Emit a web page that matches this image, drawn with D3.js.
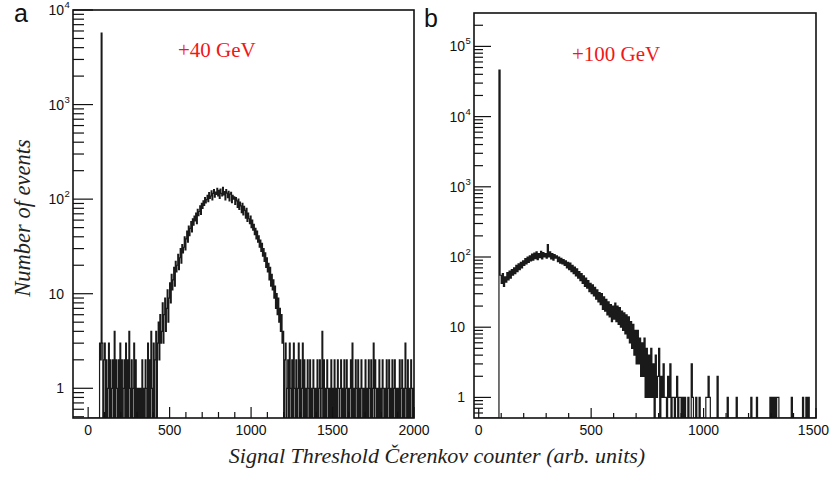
<!DOCTYPE html>
<html>
<head>
<meta charset="utf-8">
<script src="https://cdn.jsdelivr.net/npm/d3@7"></script>
<style>
  body { margin: 0; background: #fff; }
  svg text { font-family: "Liberation Sans", Arial, sans-serif; }
  .tick-label { font-size: 14px; fill: #111; }
  .sup { font-size: 9.5px; fill: #111; }
  .energy { font-family: "Liberation Serif", "Times New Roman", serif; font-size: 21px; fill: #f01818; }
  .axis-title { font-family: "Liberation Serif", "Times New Roman", serif; font-style: italic; fill: #222; }
  .panel-letter { font-size: 25px; fill: #111; }
  .hist { fill: none; stroke: #1a1a1a; stroke-width: 1.2; }
  .frame { fill: none; stroke: #111; stroke-width: 1.6; }
  .tick { stroke: #111; stroke-width: 1.2; }
</style>
</head>
<body>
<div id="chart"></div>
<script>
// panel a: +40 GeV, bins of 5 units from 0 to 2000
const binWidthA = 5;
const countsA = [
  0, 0, 0, 0, 0, 0, 0, 0, 0, 0, 0, 0, 0, 0, 3, 2, 5700, 3, 0, 2,
  3, 0, 2, 0, 1, 3, 0, 2, 0, 1, 2, 0, 4, 0, 2, 1, 0, 2, 0, 3,
  0, 2, 0, 1, 2, 0, 3, 0, 2, 0, 4, 1, 0, 2, 0, 1, 3, 0, 2, 0,
  1, 0, 1, 0, 1, 0, 2, 0, 1, 0, 2, 1, 0, 3, 0, 2, 0, 4, 1, 0,
  3, 0, 2, 4, 0, 3, 5, 2, 6, 3, 4, 8, 3, 6, 9, 4, 7, 11, 5, 9,
  13, 8, 16, 11, 14, 19, 12, 22, 17, 20, 26, 18, 24, 30, 21, 33, 27, 31, 40, 29,
  38, 46, 35, 52, 41, 49, 58, 45, 62, 53, 66, 59, 71, 55, 78, 67, 74, 85, 69, 90,
  80, 96, 86, 104, 91, 99, 110, 94, 117, 102, 108, 122, 98, 115, 126, 105, 119, 112, 130, 108,
  124, 102, 128, 115, 108, 133, 111, 120, 98, 126, 116, 104, 121, 96, 113, 118, 92, 110, 100, 106,
  88, 104, 96, 82, 100, 78, 93, 85, 72, 90, 68, 84, 76, 63, 80, 58, 71, 62, 55, 66,
  50, 60, 47, 54, 42, 49, 38, 46, 35, 41, 31, 37, 28, 34, 25, 30, 22, 27, 19, 24,
  17, 21, 14, 19, 12, 16, 11, 14, 9, 12, 7, 10, 6, 9, 5, 7, 4, 6, 3, 4,
  0, 2, 3, 0, 1, 2, 0, 3, 1, 0, 2, 0, 3, 1, 0, 2, 0, 1, 3, 0,
  2, 0, 1, 3, 0, 2, 0, 1, 0, 2, 1, 0, 2, 0, 1, 0, 2, 1, 0, 1,
  0, 2, 0, 1, 2, 0, 1, 4, 0, 2, 0, 1, 0, 2, 1, 0, 1, 0, 2, 0,
  1, 0, 2, 0, 1, 0, 2, 1, 0, 1, 2, 0, 1, 0, 2, 0, 1, 2, 0, 1,
  0, 1, 2, 0, 3, 0, 1, 0, 2, 1, 0, 2, 0, 1, 0, 2, 1, 0, 1, 0,
  2, 0, 1, 0, 2, 1, 0, 2, 0, 1, 3, 0, 2, 1, 0, 1, 0, 2, 0, 1,
  0, 2, 1, 0, 1, 0, 2, 0, 1, 2, 0, 1, 0, 2, 0, 1, 2, 0, 1, 0,
  1, 0, 2, 0, 1, 2, 0, 1, 0, 3, 1, 0, 2, 0, 1, 0, 2, 1, 0, 1
];

// panel b: +100 GeV, bins of 5 units from 0 to 1500
const binWidthB = 5;
const countsB = [
  0, 0, 0, 0, 0, 0, 0, 0, 0, 0, 0, 0, 0, 0, 0, 0, 0, 0, 46000, 55,
  42, 58, 38, 52, 44, 60, 47, 63, 50, 66, 55, 70, 58, 76, 62, 80, 66, 84, 70, 88,
  76, 95, 80, 100, 84, 104, 88, 110, 90, 114, 95, 118, 92, 112, 98, 120, 94, 116, 100, 112,
  96, 150, 100, 118, 94, 112, 90, 108, 96, 104, 86, 100, 82, 96, 80, 92, 76, 88, 70, 84,
  66, 82, 62, 76, 58, 72, 54, 68, 50, 62, 46, 58, 42, 54, 38, 50, 36, 46, 32, 42,
  30, 40, 28, 37, 25, 34, 23, 31, 21, 30, 18, 27, 17, 25, 15, 23, 14, 21, 12, 20,
  13, 22, 12, 20, 11, 19, 10, 17, 9, 16, 8, 15, 7, 14, 6, 12, 5, 11, 4, 9,
  3, 9, 3, 7, 2, 6, 2, 7, 1, 5, 1, 4, 1, 5, 1, 3, 0, 4, 1, 2,
  5, 0, 2, 1, 3, 1, 1, 0, 2, 1, 3, 0, 1, 1, 0, 1, 2, 0, 1, 1,
  0, 1, 0, 1, 0, 0, 1, 0, 0, 3, 1, 0, 0, 1, 0, 0, 1, 0, 0, 0,
  0, 0, 1, 1, 2, 1, 0, 0, 0, 0, 0, 0, 2, 0, 0, 0, 0, 0, 0, 0,
  0, 1, 0, 0, 0, 0, 0, 0, 0, 1, 0, 0, 0, 0, 0, 0, 0, 0, 0, 0,
  0, 0, 1, 0, 0, 0, 0, 1, 0, 0, 0, 0, 0, 0, 0, 0, 0, 0, 0, 1,
  0, 1, 0, 1, 0, 1, 1, 0, 0, 0, 0, 0, 0, 0, 0, 0, 0, 0, 1, 0,
  0, 0, 0, 0, 0, 0, 0, 0, 1, 0, 0, 1, 0, 1, 0, 0, 0, 0, 0, 0
];

const xTicksA = [0, 500, 1000, 1500, 2000];
const xTicksB = [0, 500, 1000, 1500];
const energyA = "+40 GeV";
const energyB = "+100 GeV";
const yTitle = "Number of events";
const xTitle = "Signal Threshold Čerenkov counter (arb. units)";

class HistPanel {
  constructor(_svg, _data, _config) {
    this.svg = _svg;
    this.data = _data;
    this.config = _config;

    this.initVis();
  }

  initVis() {
    let vis = this;
    const c = vis.config;

    vis.x = d3.scaleLinear().domain(c.xDomain).range([c.left, c.right]);
    vis.y = d3.scaleLog().domain(c.yDomain).range([c.bottom, c.top]);

    vis.g = vis.svg.append("g");

    vis.g
      .append("clipPath")
      .attr("id", "clip-" + c.id)
      .append("rect")
      .attr("x", c.left)
      .attr("y", c.top)
      .attr("width", c.right - c.left)
      .attr("height", c.bottom - c.top);

    vis.updateVis();
  }

  updateVis() {
    let vis = this;
    const c = vis.config;

    // histogram as a step line, empty bins sit on the bottom axis
    let pts = vis.data.values.map((v, i) => [i * vis.data.binWidth, v]);
    pts.push([vis.data.values.length * vis.data.binWidth, 0]);

    let line = d3
      .line()
      .x((d) => vis.x(d[0]))
      .y((d) => (d[1] > 0 ? vis.y(d[1]) : c.bottom))
      .curve(d3.curveStepAfter);

    vis.g
      .append("path")
      .attr("class", "hist")
      .attr("clip-path", "url(#clip-" + c.id + ")")
      .attr("d", line(pts));

    // x ticks, pointing inwards
    let xMinor = d3.range(0, c.xDomain[1] + 1, 100);
    vis.g
      .selectAll(".xtick")
      .data(xMinor)
      .enter()
      .append("line")
      .attr("class", "tick")
      .attr("x1", (d) => vis.x(d))
      .attr("x2", (d) => vis.x(d))
      .attr("y1", c.bottom)
      .attr("y2", (d) => c.bottom - (d % 500 === 0 ? c.xMajor : c.xMinor));

    vis.g
      .selectAll(".xlabel")
      .data(vis.data.xTicks)
      .enter()
      .append("text")
      .attr("class", "tick-label")
      .attr("x", (d) => vis.x(d))
      .attr("y", c.bottom + 17)
      .attr("text-anchor", "middle")
      .text((d) => d)
      .each(function () {
        // keep the last label inside the page
        let w = this.getComputedTextLength();
        let x = +d3.select(this).attr("x");
        if (x + w / 2 > 829) d3.select(this).attr("x", 829 - w / 2);
      });

    // y ticks, log scale
    let yt = vis.y.ticks();
    let isMajor = (t) => Math.abs(Math.log10(t) - Math.round(Math.log10(t))) < 1e-6;
    vis.g
      .selectAll(".ytick")
      .data(yt)
      .enter()
      .append("line")
      .attr("class", "tick")
      .attr("x1", c.left)
      .attr("x2", (d) => c.left + (isMajor(d) ? c.yMajor : c.yMinor))
      .attr("y1", (d) => vis.y(d))
      .attr("y2", (d) => vis.y(d));

    let yLabels = yt.filter((t) => isMajor(t) && t >= 1);
    let lab = vis.g
      .selectAll(".ylabel")
      .data(yLabels)
      .enter()
      .append("g");

    lab
      .append("text")
      .attr("class", "tick-label")
      .attr("x", c.left - 9)
      .attr("y", (d) => vis.y(d) + 5)
      .attr("text-anchor", "end")
      .text((d) => (d >= 100 ? "10" : d));

    lab
      .filter((d) => d >= 100)
      .append("text")
      .attr("class", "sup")
      .attr("x", c.left - 8.5)
      .attr("y", (d) => vis.y(d) - 2)
      .text((d) => Math.round(Math.log10(d)));

    // frame
    vis.g
      .append("rect")
      .attr("class", "frame")
      .attr("x", c.left)
      .attr("y", c.top)
      .attr("width", c.right - c.left)
      .attr("height", c.bottom - c.top);

    vis.g
      .append("text")
      .attr("class", "energy")
      .attr("x", c.energyX)
      .attr("y", c.energyY)
      .text(vis.data.energy);

    vis.g
      .append("text")
      .attr("class", "panel-letter")
      .attr("x", c.letterX)
      .attr("y", c.letterY)
      .text(c.letter);
  }
}

const svg = d3
  .select("#chart")
  .append("svg")
  .attr("width", 830)
  .attr("height", 479);

new HistPanel(
  svg,
  { values: countsA, binWidth: binWidthA, xTicks: xTicksA, energy: energyA },
  {
    id: "a", letter: "a",
    left: 73, right: 414, top: 10, bottom: 418,
    xDomain: [-93, 2000], yDomain: [0.485, 10000],
    xMajor: 11, xMinor: 6, yMajor: 20, yMinor: 11,
    energyX: 178, energyY: 57, letterX: 14, letterY: 22
  }
);

new HistPanel(
  svg,
  { values: countsB, binWidth: binWidthB, xTicks: xTicksB, energy: energyB },
  {
    id: "b", letter: "b",
    left: 474, right: 816, top: 13, bottom: 418,
    xDomain: [-21, 1500], yDomain: [0.509, 299000],
    xMajor: 10, xMinor: 5, yMajor: 17, yMinor: 9,
    energyX: 572, energyY: 61, letterX: 424, letterY: 27
  }
);

// shared axis titles
svg
  .append("text")
  .attr("class", "axis-title")
  .attr("transform", "translate(30,218) rotate(-90)")
  .attr("text-anchor", "middle")
  .style("font-size", "22.5px")
  .text(yTitle);

svg
  .append("text")
  .attr("class", "axis-title")
  .attr("x", 437)
  .attr("y", 463)
  .attr("text-anchor", "middle")
  .style("font-size", "22px")
  .text(xTitle);
</script>
</body>
</html>
